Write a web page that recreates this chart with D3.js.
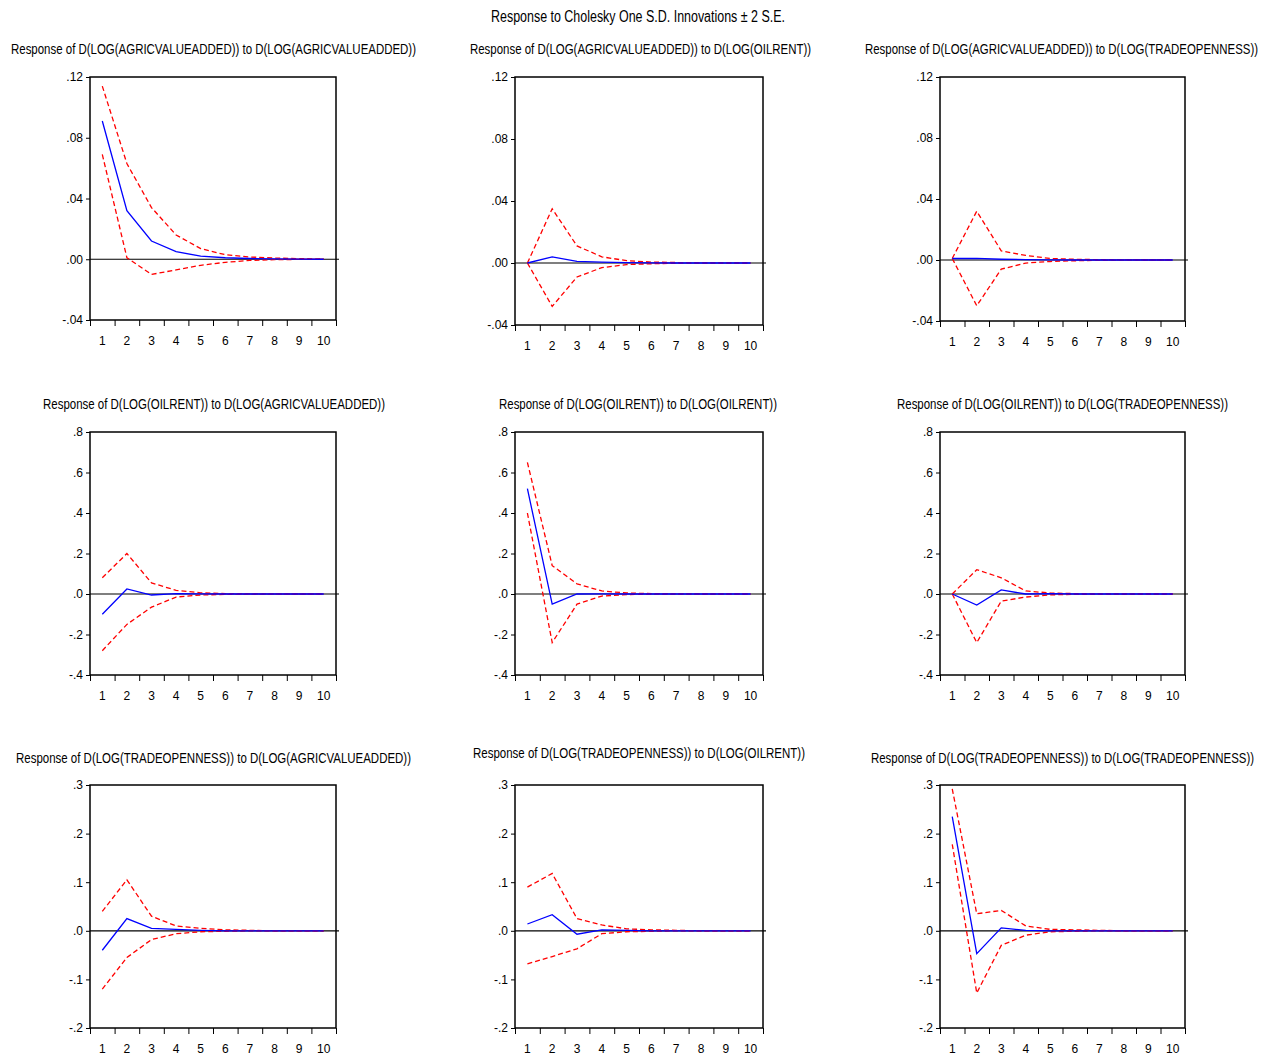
<!DOCTYPE html>
<html><head><meta charset="utf-8">
<script src="https://cdn.jsdelivr.net/npm/d3@7"></script>
<style>body{margin:0;background:#fff}text{font-family:"Liberation Sans","DejaVu Sans",sans-serif}</style>
</head><body><svg id="c" width="1272" height="1061"></svg>
<script>
const periods=[1,2,3,4,5,6,7,8,9,10];
const titles=["Response of  D(LOG(AGRICVALUEADDED))  to  D(LOG(AGRICVALUEADDED))","Response of  D(LOG(AGRICVALUEADDED))  to  D(LOG(OILRENT))","Response of  D(LOG(AGRICVALUEADDED))  to  D(LOG(TRADEOPENNESS))",
"Response of  D(LOG(OILRENT))  to  D(LOG(AGRICVALUEADDED))","Response of  D(LOG(OILRENT))  to  D(LOG(OILRENT))","Response of  D(LOG(OILRENT))  to  D(LOG(TRADEOPENNESS))",
"Response of  D(LOG(TRADEOPENNESS))  to  D(LOG(AGRICVALUEADDED))","Response of  D(LOG(TRADEOPENNESS))  to  D(LOG(OILRENT))","Response of  D(LOG(TRADEOPENNESS))  to  D(LOG(TRADEOPENNESS))"];
const yTicks1=[-0.04,0,0.04,0.08,0.12], yTicks2=[-0.4,-0.2,0,0.2,0.4,0.6,0.8], yTicks3=[-0.2,-0.1,0,0.1,0.2,0.3];
const resp=[[.091,.032,.012,.005,.002,.001,.0005,.0002,.0001,0],[0,.004,.001,.0005,.0002,.0001,0,0,0,0],[.001,.001,.0005,.0003,.0001,0,0,0,0,0],
[-.10,.025,-.005,.002,.001,0,0,0,0,0],[.52,-.05,0,.001,0,0,0,0,0,0],[0,-.055,.02,0,.002,0,0,0,0,0],
[-.04,.025,.005,.003,.001,0,0,0,0,0],[.014,.033,-.007,.002,.001,0,0,0,0,0],[.235,-.047,.006,.001,0,0,0,0,0,0]];
const upper=[[.114,.063,.034,.016,.007,.003,.0015,.0008,.0004,.0002],[0,.035,.011,.004,.0015,.0006,.0003,.0001,0,0],[.001,.032,.006,.003,.001,.0005,.0002,.0001,0,0],
[.08,.20,.055,.018,.006,.002,.001,0,0,0],[.65,.14,.05,.015,.005,.002,.001,0,0,0],[0,.12,.08,.015,.005,.002,.001,0,0,0],
[.04,.105,.03,.01,.005,.002,.001,0,0,0],[.09,.118,.025,.012,.004,.002,.001,0,0,0],[.292,.035,.042,.01,.003,.002,.001,0,0,0]];
const lower=[[.069,.001,-.010,-.007,-.004,-.002,-.0008,-.0003,-.0001,0],[0,-.028,-.009,-.003,-.001,-.0005,-.0002,0,0,0],[.001,-.030,-.006,-.002,-.001,-.0005,-.0002,0,0,0],
[-.28,-.15,-.065,-.015,-.005,-.002,-.001,0,0,0],[.40,-.24,-.05,-.01,-.003,-.001,0,0,0,0],[0,-.24,-.035,-.015,-.004,-.002,-.001,0,0,0],
[-.12,-.055,-.018,-.006,-.002,-.001,0,0,0,0],[-.068,-.053,-.037,-.006,-.002,-.001,0,0,0,0],[.178,-.128,-.03,-.009,-.002,-.001,0,0,0,0]];
const svg=d3.select("#c");
svg.append("text").attr("x",491).attr("y",22).attr("font-size",16).attr("textLength",294).attr("lengthAdjust","spacingAndGlyphs").text("Response to Cholesky One S.D. Innovations \u00b1 2 S.E.");
const lefts=[90,515,940], rights=[336,763,1185];
const frames=[[77,320],[77,325],[77,321],[432,675],[432,675],[432,675],[785,1028],[785,1028],[785,1028]];
const titleX=[11,470,865,43,499,897,16,473,871], titleW=[405,341,393,342,278,331,395,332,383];
const titleY=[54,54,54,409,409,409,763,758,763];
for(let i=0;i<9;i++){
  const c=i%3, r=Math.floor(i/3);
  const ticks=r===0?yTicks1:(r===1?yTicks2:yTicks3);
  const dec=r===0?2:1;
  const x=d3.scaleLinear().domain([0.5,10.5]).range([lefts[c],rights[c]]);
  const y=d3.scaleLinear().domain([ticks[0],ticks[ticks.length-1]]).range([frames[i][1],frames[i][0]]);
  const g=svg.append("g");
  g.append("text").attr("x",titleX[i]).attr("y",titleY[i]).attr("font-size",15).attr("textLength",titleW[i]).attr("lengthAdjust","spacingAndGlyphs").text(titles[i]);
  g.append("rect").attr("x",x(0.5)).attr("y",y.range()[1]).attr("width",x(10.5)-x(0.5)).attr("height",y.range()[0]-y.range()[1]).attr("fill","none").attr("stroke","#000").attr("stroke-width",1.5);
  const ya=g.append("g").attr("transform",`translate(${x(0.5)},0)`).call(d3.axisLeft(y).tickValues(ticks).tickSize(4).tickFormat(v=>{let s=v.toFixed(dec);return s.replace(/^(-?)0\./,"$1.");}));
  ya.select(".domain").remove();ya.selectAll("text").attr("font-size",12).attr("font-family","Liberation Sans, sans-serif");
  const xa=g.append("g").attr("transform",`translate(0,${y.range()[0]})`).call(d3.axisBottom(x).tickValues(d3.range(0.5,11,1)).tickSize(6).tickFormat(""));
  xa.select(".domain").remove();
  g.selectAll(".pl").data(periods).join("text").attr("x",d=>x(d)).attr("y",y.range()[0]+25).attr("text-anchor","middle").attr("font-size",12).text(d=>d);
  g.append("line").attr("x1",x(0.5)).attr("x2",x(10.5)+3).attr("y1",y(0)).attr("y2",y(0)).attr("stroke","#000").attr("stroke-width",1.2);
  const line=d3.line().x((d,k)=>x(periods[k])).y(d=>y(d));
  g.append("path").attr("d",line(upper[i])).attr("fill","none").attr("stroke","#f00").attr("stroke-width",1.3).attr("stroke-dasharray","5,3");
  g.append("path").attr("d",line(lower[i])).attr("fill","none").attr("stroke","#f00").attr("stroke-width",1.3).attr("stroke-dasharray","5,3");
  g.append("path").attr("d",line(resp[i])).attr("fill","none").attr("stroke","#00f").attr("stroke-width",1.3);
}
</script></body></html>
